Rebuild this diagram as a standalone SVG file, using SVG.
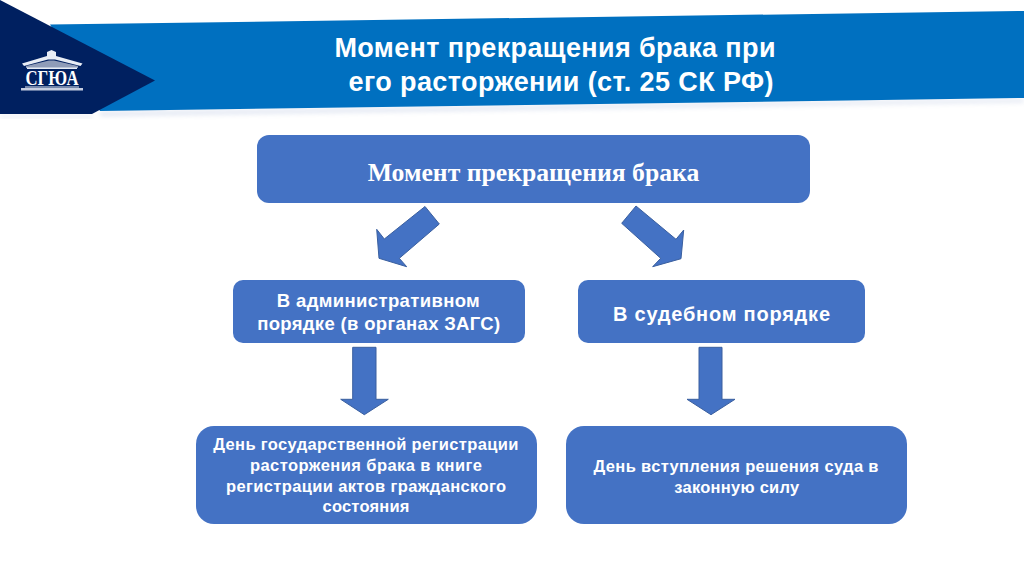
<svg xmlns="http://www.w3.org/2000/svg" width="1024" height="574" viewBox="0 0 1024 574">
  <defs>
    <filter id="soft" x="-5%" y="-20%" width="110%" height="140%"><feGaussianBlur stdDeviation="2.5"/></filter>
    <style>
      .box { fill: #4472c4; }
      .arrow { fill: #4472c4; stroke: #3a5f9f; stroke-width: 1; }
      text { font-family: "Liberation Sans", Arial, sans-serif; font-weight: 700; fill: #fff; text-anchor: middle; }
      .title { font-size: 27px; }
      .mid { font-size: 18.5px; }
      .court { font-size: 20px; }
      .low { font-size: 16.5px; }
      .head { font-family: "Liberation Serif", serif; font-size: 25.7px; }
      .logo-text { font-family: "Liberation Serif", serif; font-size: 21px; }
    </style>
  </defs>
  <rect width="1024" height="574" fill="#ffffff"/>
  <g id="banner">
    <polygon points="100,112 1024,99 1024,102 100,116" fill="#8fa3cf" opacity="0.3" filter="url(#soft)"/>
    <polygon points="0,115 92,115 92,118 0,118" fill="#8fa3cf" opacity="0.2" filter="url(#soft)"/>
    <polygon points="50,24.5 1024,11 1024,98 100,111" fill="#0070c0"/>
    <polygon points="0,0 155,80.5 92,114 0,114" fill="#002060"/>
  </g>
  <g id="logo">
    <path d="M22,63.500 L47,56 L47,52 L51.500,50 L56,52 L56,56 L82.500,63.500 L80.500,66 L55,59.500 L48,59.500 L24,66 Z" fill="#e8edf5"/>
    <path d="M26,66 L49,60.500 L54,60.500 L78,66 L78,68 L26,68 Z" fill="#8f9cb8"/>
    <rect x="27" y="67.500" width="50" height="1.500" fill="#e8edf5"/>
    <text class="logo-text" x="52" y="85" textLength="53" lengthAdjust="spacingAndGlyphs">СГЮА</text>
    <rect x="25" y="86.500" width="54" height="1" fill="#e8edf5"/>
    <rect x="21" y="88" width="62" height="2.500" fill="#c5cde0"/>
  </g>
  <g id="title">
    <text class="title" x="555" y="57" textLength="441">Момент прекращения брака при</text>
    <text class="title" x="561" y="90.500" textLength="425">его расторжении (ст. 25 СК РФ)</text>
  </g>
  <g id="node-top">
    <rect class="box" x="257" y="135" width="553" height="68" rx="12"/>
    <text class="head" x="533.500" y="181">Момент прекращения брака</text>
  </g>
  <g id="node-admin">
    <rect class="box" x="233" y="280" width="292" height="63" rx="10"/>
    <text class="mid" x="378.300" y="307" textLength="203">В административном</text>
    <text class="mid" x="378.700" y="329.500" textLength="243">порядке (в органах ЗАГС)</text>
  </g>
  <g id="node-court">
    <rect class="box" x="578" y="280" width="287" height="63" rx="10"/>
    <text class="court" x="721.500" y="321" textLength="217">В судебном порядке</text>
  </g>
  <g id="node-state-reg">
    <rect class="box" x="196" y="426" width="341" height="98" rx="18"/>
    <text class="low" x="365.800" y="450" textLength="305">День государственной регистрации</text>
    <text class="low" x="366" y="471" textLength="232">расторжения брака в книге</text>
    <text class="low" x="366" y="492" textLength="280">регистрации актов гражданского</text>
    <text class="low" x="366" y="512" textLength="87">состояния</text>
  </g>
  <g id="node-court-date">
    <rect class="box" x="566" y="426" width="341" height="98" rx="18"/>
    <text class="low" x="736" y="471.500" textLength="285">День вступления решения суда в</text>
    <text class="low" x="736.700" y="492.500" textLength="125">законную силу</text>
  </g>
  <g id="connectors">
    <polygon class="arrow" points="425,206.500 439.300,224 399.300,258.300 406.700,266.700 379,258.300 376.700,229.300 384.300,239"/>
    <polygon class="arrow" points="636,206 676,239.300 683.700,230 681,258.700 652.700,266.700 660.700,258.300 621.700,223.300"/>
    <polygon class="arrow" points="352.700,347.300 376,347.300 376,399.300 388.300,399.300 364.300,414.700 340.700,399.300 352.700,399.300"/>
    <polygon class="arrow" points="699,347.300 722,347.300 722,399.300 735,399.300 711,414.700 687,399.300 699,399.300"/>
  </g>
</svg>
